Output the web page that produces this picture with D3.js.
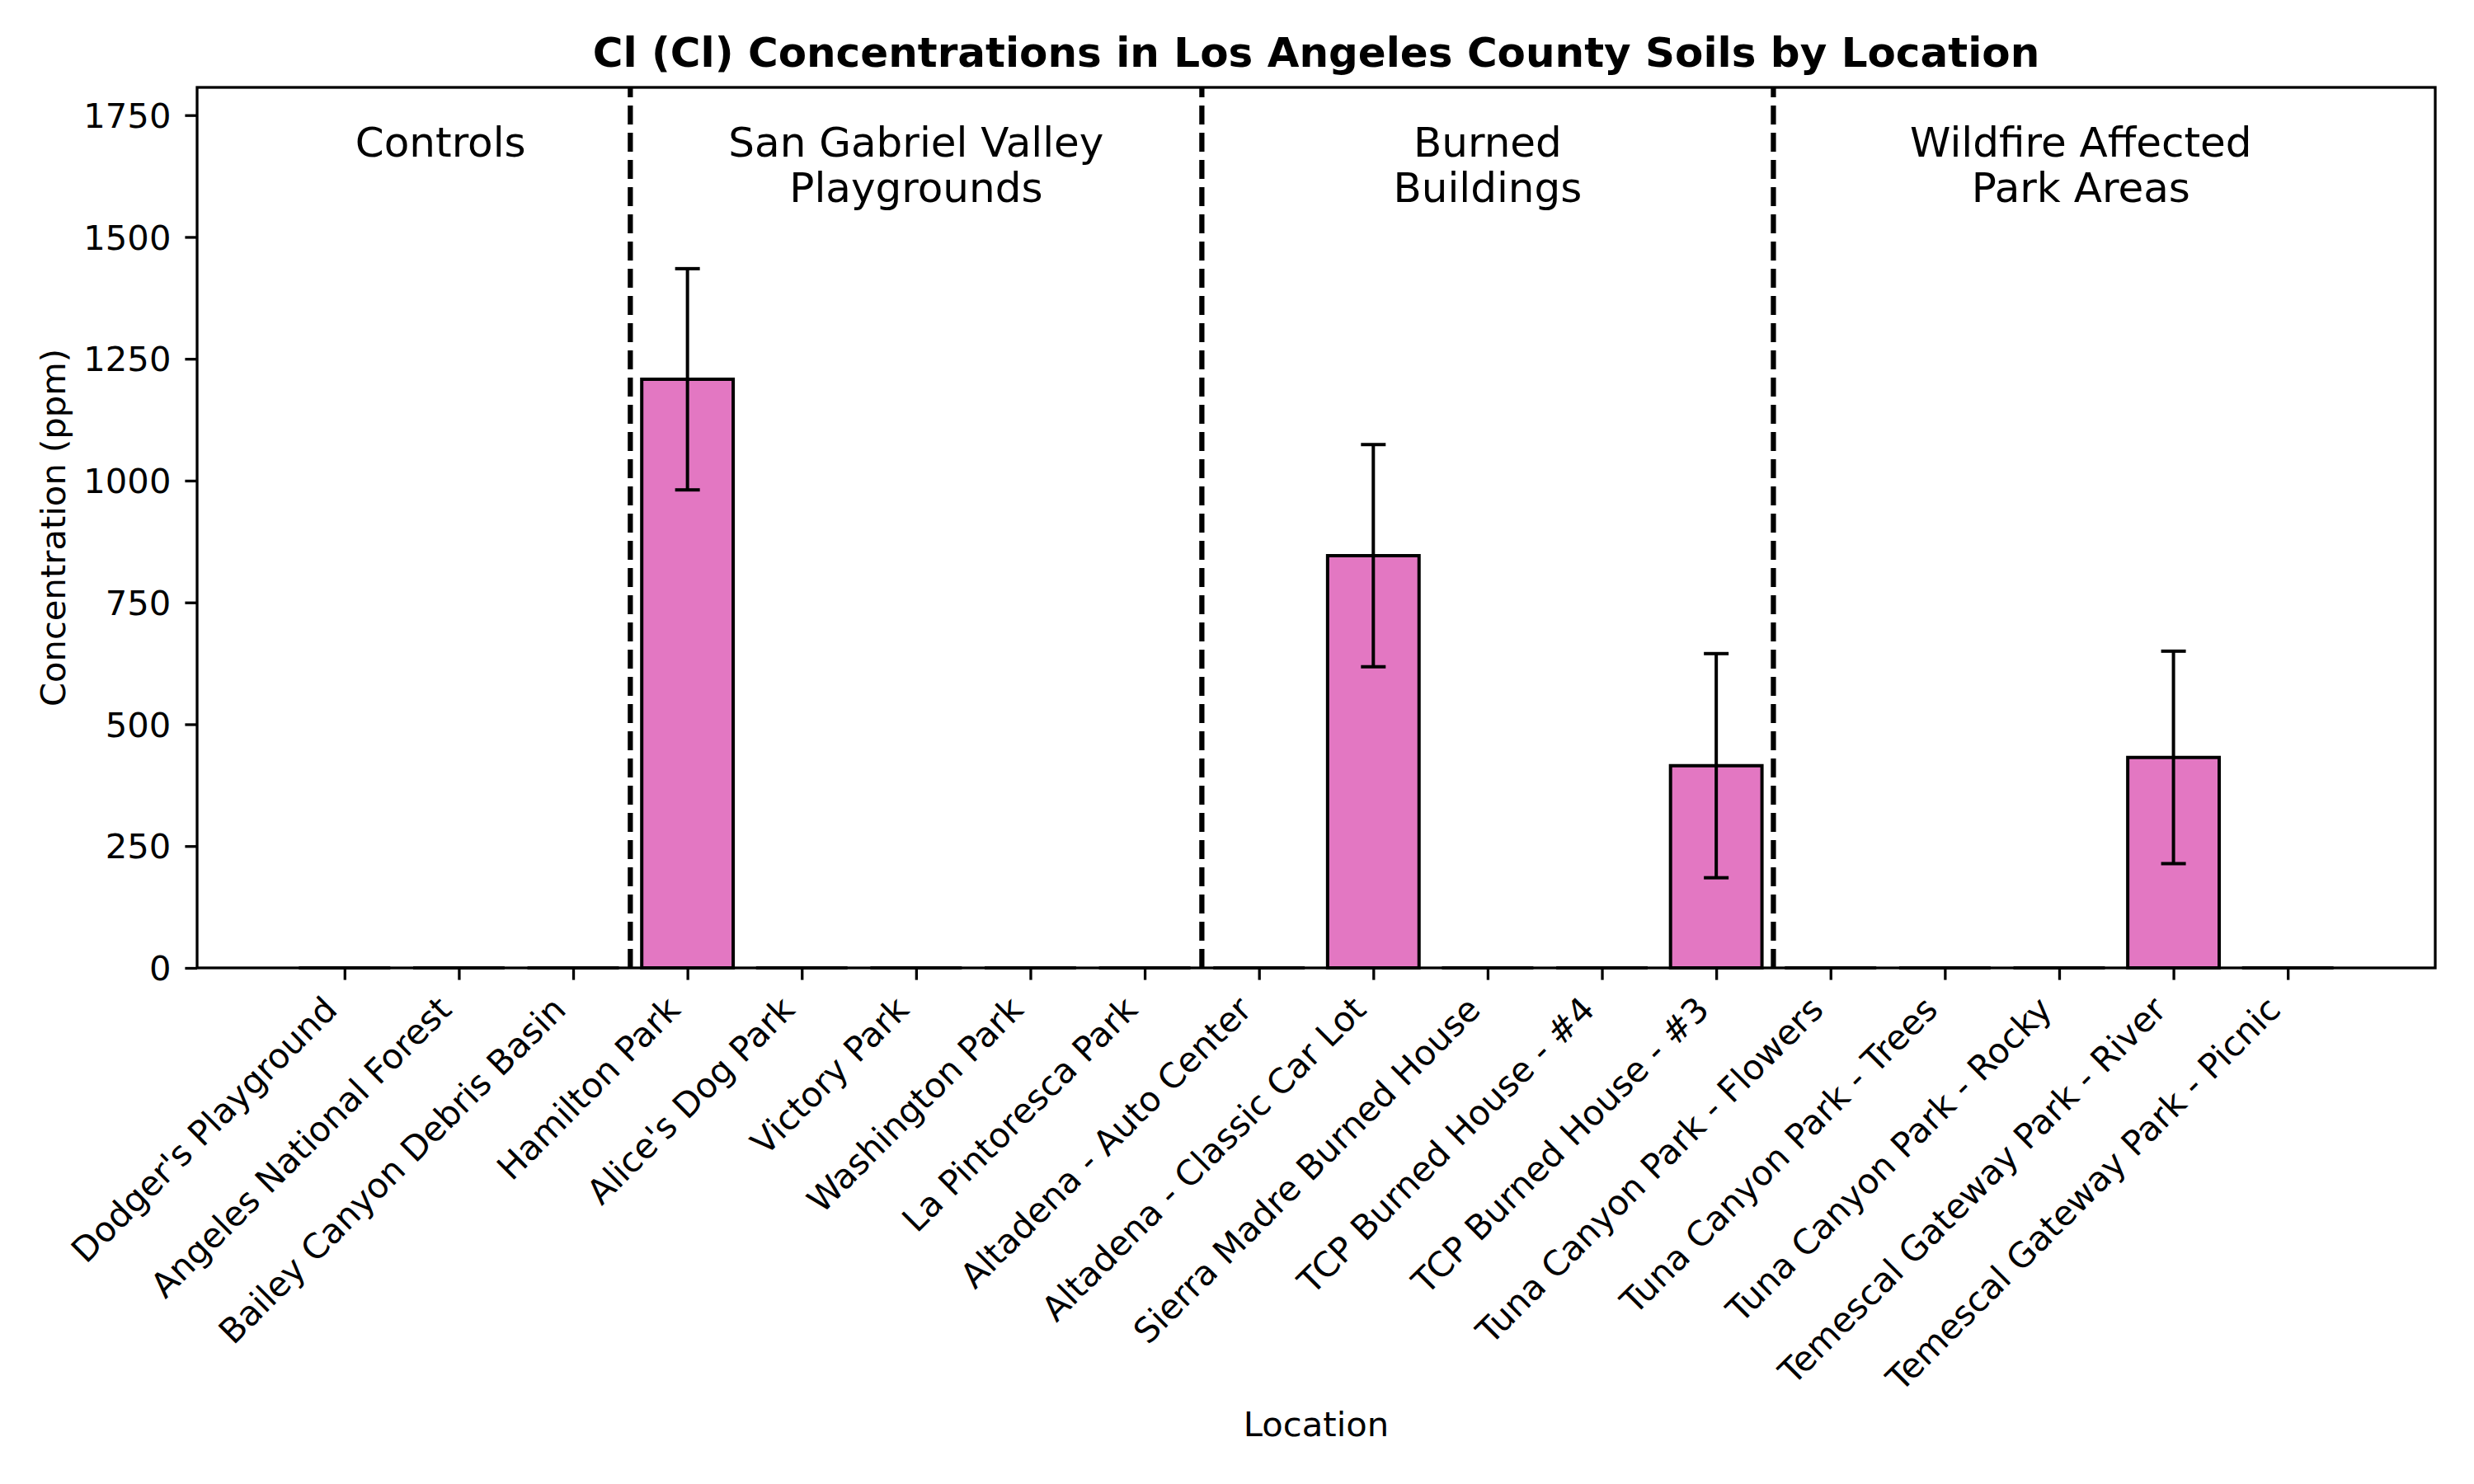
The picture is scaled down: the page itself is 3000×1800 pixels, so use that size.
<!DOCTYPE html>
<html>
<head>
<meta charset="utf-8">
<script src="https://cdn.jsdelivr.net/npm/d3@7"></script>
<style>
  html, body { margin: 0; padding: 0; background: #fff; }
  text { font-family: "DejaVu Sans", sans-serif; fill: #000; }
</style>
</head>
<body>
<svg id="chart" width="3000" height="1800"></svg>
<script>
// ---- data ----
const locations = [
  "Dodger's Playground", "Angeles National Forest", "Bailey Canyon Debris Basin",
  "Hamilton Park", "Alice's Dog Park", "Victory Park", "Washington Park", "La Pintoresca Park",
  "Altadena - Auto Center", "Altadena - Classic Car Lot", "Sierra Madre Burned House",
  "TCP Burned House - #4", "TCP Burned House - #3",
  "Tuna Canyon Park - Flowers", "Tuna Canyon Park - Trees", "Tuna Canyon Park - Rocky",
  "Temescal Gateway Park - River", "Temescal Gateway Park - Picnic"
];
const concentrations = [0, 0, 0, 1208, 0, 0, 0, 0, 0, 846, 0, 0, 415, 0, 0, 0, 432, 0];
const errors =         [0, 0, 0, 227, 0, 0, 0, 0, 0, 228, 0, 0, 230, 0, 0, 0, 218, 0];
const groupNames = [["Controls"], ["San Gabriel Valley", "Playgrounds"], ["Burned", "Buildings"], ["Wildfire Affected", "Park Areas"]];
const groupCenters = [0.84, 5, 10, 15.19];
const groupDividers = [2.5, 7.5, 12.5];
const yTicks = [0, 250, 500, 750, 1000, 1250, 1500, 1750];
const title = "Cl (Cl) Concentrations in Los Angeles County Soils by Location";
const xLabel = "Location";
const yLabel = "Concentration (ppm)";

// ---- layout ----
const L = 239, R = 2953, T = 106, B = 1174;
const svg = d3.select("#chart");
const x = d3.scaleLinear().domain([-1.29, 18.29]).range([L, R]);
const y = d3.scaleLinear().domain([0, 1807]).range([B, T]);
const barW = x(0.8) - x(0);

// bars
svg.append("g").selectAll("path").data(concentrations).join("path")
  .attr("d", (d, i) => {
    const x0 = x(i - 0.4), x1 = x(i + 0.4), y0 = y(0), y1 = y(d);
    return `M${x0},${y0}V${y1}H${x1}V${y0}Z`;
  })
  .attr("fill", "#e377c2")
  .attr("stroke", "#000")
  .attr("stroke-width", 4);

// error bars
const eg = svg.append("g").attr("stroke", "#000").attr("stroke-width", 4);
concentrations.forEach((d, i) => {
  const e = errors[i];
  if (!e) return;
  const cx = x(i);
  eg.append("line").attr("x1", cx).attr("x2", cx).attr("y1", y(d - e)).attr("y2", y(d + e));
  eg.append("line").attr("x1", cx - 15).attr("x2", cx + 15).attr("y1", y(d - e)).attr("y2", y(d - e));
  eg.append("line").attr("x1", cx - 15).attr("x2", cx + 15).attr("y1", y(d + e)).attr("y2", y(d + e));
});

// dividers
svg.append("g").selectAll("line").data(groupDividers).join("line")
  .attr("x1", d => x(d)).attr("x2", d => x(d))
  .attr("y1", B).attr("y2", T)
  .attr("stroke", "#000").attr("stroke-width", 6.25)
  .attr("stroke-dasharray", "23,10");

// group labels
groupNames.forEach((lines, gi) => {
  const t = svg.append("text")
    .attr("text-anchor", "middle")
    .attr("font-size", 50)
    .attr("x", x(groupCenters[gi]))
    .attr("y", 190);
  lines.forEach((ln, li) => {
    t.append("tspan").attr("x", x(groupCenters[gi])).attr("y", 190 + li * 55).text(ln);
  });
});

// y axis
const yAxis = d3.axisLeft(y).tickValues(yTicks).tickSize(14.6).tickPadding(17).tickFormat(d3.format("d"));
const yg = svg.append("g").attr("transform", `translate(${L},0)`).call(yAxis);
yg.select(".domain").remove();
yg.selectAll(".tick line").attr("stroke-width", 3.3);
yg.selectAll(".tick text").attr("font-size", 41.7).attr("font-family", "DejaVu Sans").attr("dy", "0.35em");

// x axis
const xAxis = d3.axisBottom(x).tickValues(d3.range(locations.length)).tickSize(14.6).tickFormat(i => locations[i]);
const xg = svg.append("g").attr("transform", `translate(0,${B})`).call(xAxis);
xg.select(".domain").remove();
xg.selectAll(".tick line").attr("stroke-width", 3.3);
xg.selectAll(".tick text")
  .attr("font-size", 41.7).attr("font-family", "DejaVu Sans")
  .attr("text-anchor", "end")
  .attr("x", null).attr("y", null).attr("dy", null)
  .attr("transform", "translate(-7,53) rotate(-45)");

// spines
svg.append("rect").attr("x", L).attr("y", T).attr("width", R - L).attr("height", B - T)
  .attr("fill", "none").attr("stroke", "#000").attr("stroke-width", 3.3);

// labels
svg.append("text").attr("x", (L + R) / 2).attr("y", 81).attr("text-anchor", "middle")
  .attr("font-size", 50).attr("font-weight", "bold").text(title);
svg.append("text").attr("x", (L + R) / 2).attr("y", 1742).attr("text-anchor", "middle")
  .attr("font-size", 41.7).text(xLabel);
svg.append("text").attr("transform", `translate(79,${(T + B) / 2}) rotate(-90)`).attr("text-anchor", "middle")
  .attr("font-size", 41.7).text(yLabel);
</script>
</body>
</html>
